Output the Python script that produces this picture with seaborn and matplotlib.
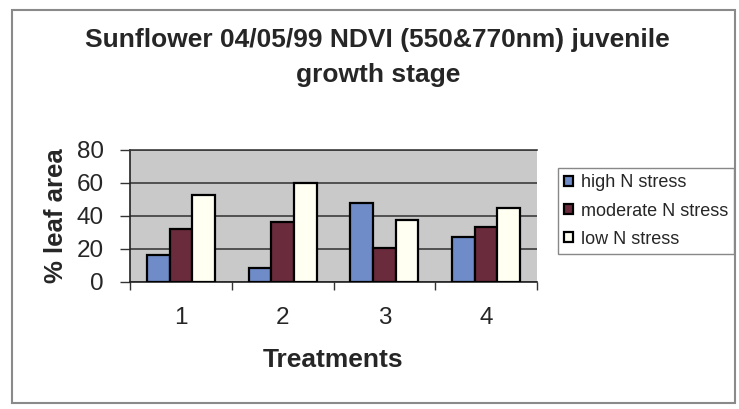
import matplotlib
matplotlib.use("Agg")
import matplotlib.pyplot as plt
from matplotlib.patches import Rectangle
import pandas as pd
import seaborn as sns

# Data: % leaf area per treatment and nitrogen-stress class
treatments = ["1", "2", "3", "4"]
series_names = ["high N stress", "moderate N stress", "low N stress"]
high_n = [16, 8, 47.5, 27]
moderate_n = [32, 36, 20.5, 33]
low_n = [52.5, 60, 37.5, 44.5]
y_ticks = [0, 20, 40, 60, 80]

colors = ["#6f8cc8", "#6a2b3c", "#fffff2"]

rows = []
for name, vals in zip(series_names, [high_n, moderate_n, low_n]):
    for t, v in zip(treatments, vals):
        rows.append({"Treatments": t, "stress": name, "value": v})
df = pd.DataFrame(rows)

sns.set_theme(style="white")
plt.rcParams["font.family"] = ["Liberation Sans", "DejaVu Sans"]

fig = plt.figure(figsize=(7.39, 4.09), dpi=100)
ax = fig.add_axes([130 / 739, 1 - 281.5 / 409, 407 / 739, 131.5 / 409])
ax.set_facecolor("#c9c9c9")

sns.barplot(data=df, x="Treatments", y="value", hue="stress",
            order=treatments, hue_order=series_names,
            palette=colors, width=0.67, edgecolor="black", linewidth=1.6,
            saturation=1, ax=ax, zorder=3)

ax.set_ylim(0, 80)
ax.set_xlim(-0.5, 3.5)
ax.set_yticks(y_ticks)
ax.set_yticklabels([str(v) for v in y_ticks], fontsize=17.5)
ax.yaxis.grid(True, color="#3c3c3c", linewidth=1.2, zorder=1)
ax.set_axisbelow(True)

# tick marks sit between the treatment groups
ax.set_xticks([0, 1, 2, 3])
ax.set_xticklabels(treatments, fontsize=17.5)
ax.set_xticks([-0.5, 0.5, 1.5, 2.5, 3.5], minor=True)
ax.tick_params(axis="x", which="major", length=0, pad=18)
ax.tick_params(axis="x", which="minor", length=6, width=1, color="#333333",
               direction="out", bottom=True)
ax.tick_params(axis="y", length=7, width=1, color="#333333", direction="out",
               left=True, pad=12)

for side in ["left", "bottom"]:
    ax.spines[side].set_color("#222222")
    ax.spines[side].set_linewidth(1.2)
ax.spines["top"].set_color("#3c3c3c")
ax.spines["top"].set_linewidth(1.2)
ax.spines["right"].set_visible(False)

ax.set_xlabel("Treatments", fontsize=19, fontweight="bold", labelpad=14)
ax.set_ylabel("% leaf area", fontsize=18.5, fontweight="bold", labelpad=6)

handles, labels = ax.get_legend_handles_labels()
ax.get_legend().remove()
fig.legend(handles, labels, loc="upper left",
           bbox_to_anchor=(558 / 739, 1 - 168 / 409),
           bbox_transform=fig.transFigure,
           fontsize=13, frameon=True, fancybox=False, edgecolor="#888888",
           framealpha=1, borderpad=0.35, labelspacing=0.62,
           handlelength=0.5, handleheight=0.5, handletextpad=0.4,
           borderaxespad=0)

fig.text(377 / 739, 1 - 40 / 409,
         "Sunflower 04/05/99 NDVI (550&770nm) juvenile",
         ha="center", va="center", fontsize=19, fontweight="bold")
fig.text(378 / 739, 1 - 75 / 409, "growth stage",
         ha="center", va="center", fontsize=19, fontweight="bold")

# outer chart frame
fig.patches.append(Rectangle((12 / 739, 1 - 403 / 409), 723 / 739, 393 / 409,
                             transform=fig.transFigure, fill=False,
                             edgecolor="#8a8a8a", linewidth=1.5))

fig.savefig("out.png", dpi=100)
